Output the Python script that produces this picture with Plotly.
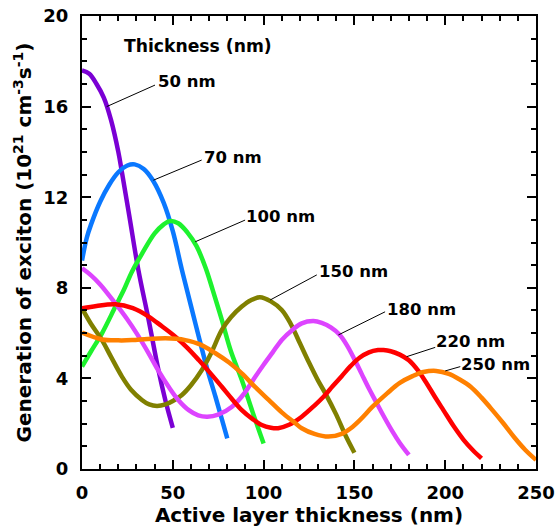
import plotly.graph_objects as go

# ---- data ----
x50 = [0, 4, 8, 12, 16, 20, 22, 26, 31, 36.7, 42, 46, 50]
y50 = [17.6, 17.45, 17.0, 16.4, 15.4, 14.0, 13.1, 11.2, 8.8, 6.58, 4.4, 3.0, 1.82]

x70 = [0, 2.6, 5, 10, 15, 20, 25, 29, 34, 39, 45, 50, 55, 60, 64.3, 69, 73.5, 77, 80]
y70 = [9.2, 10.2, 10.8, 11.8, 12.55, 13.1, 13.4, 13.45, 13.25, 12.75, 11.75, 10.5, 8.8, 7.2, 5.84, 4.4, 3.19, 2.2, 1.35]

x100 = [0, 5, 11, 18.4, 23, 27.5, 33, 40, 45, 48.5, 53, 58, 63, 68, 72, 77, 82, 88, 94, 100]
y100 = [4.52, 5.2, 5.99, 7.17, 7.9, 8.71, 9.5, 10.4, 10.8, 10.95, 10.85, 10.45, 9.85, 8.9, 7.9, 6.58, 5.2, 3.93, 2.5, 1.13]

x150 = [0, 5, 11, 16, 22, 27, 33, 37, 41.3, 46, 50, 55, 60, 66, 71, 77, 82, 88, 93, 98, 104, 110, 115, 120, 125, 130, 134, 140, 145, 150]
y150 = [7.09, 6.4, 5.69, 4.95, 4.08, 3.5, 3.05, 2.85, 2.78, 2.85, 3.0, 3.27, 3.7, 4.37, 5.1, 6.14, 6.7, 7.17, 7.45, 7.58, 7.4, 7.02, 6.4, 5.55, 4.7, 3.9, 3.34, 2.4, 1.5, 0.72]

x180 = [0, 5, 10, 18.4, 25, 30, 36.7, 42, 47.7, 53, 58.8, 64, 69, 75, 82.6, 89, 95.5, 100, 105, 110, 116, 121, 127.4, 132, 137, 142, 146, 150, 154, 158, 162, 166, 171, 175, 180]
y180 = [8.86, 8.55, 8.15, 7.31, 6.6, 6.0, 5.11, 4.35, 3.63, 3.05, 2.6, 2.37, 2.31, 2.4, 2.75, 3.3, 4.08, 4.6, 5.15, 5.7, 6.15, 6.43, 6.53, 6.45, 6.25, 5.92, 5.45, 4.85, 4.2, 3.55, 2.95, 2.35, 1.65, 1.15, 0.62]

x220 = [0, 8, 18.4, 28, 36.7, 44, 51.4, 58, 64.3, 71, 77, 83, 88, 94, 99, 104, 108, 114, 121, 128, 133, 138, 143, 148, 153, 158, 163, 166, 170, 175, 180, 185, 190, 195, 199, 205, 210, 215, 220]
y220 = [7.09, 7.2, 7.27, 7.1, 6.73, 6.3, 5.84, 5.35, 4.81, 4.2, 3.63, 3.05, 2.6, 2.2, 1.94, 1.82, 1.8, 1.95, 2.31, 2.8, 3.19, 3.65, 4.1, 4.55, 4.92, 5.15, 5.25, 5.25, 5.2, 5.05, 4.8, 4.35, 3.75, 3.1, 2.6, 1.85, 1.3, 0.85, 0.47]

x250 = [0, 11, 20, 27.5, 36, 45.9, 52, 56.9, 65, 73.5, 81, 88, 95, 102.8, 110, 117.5, 121, 128, 135.7, 143, 148, 153, 160, 168, 175, 182, 188, 195, 202, 208, 214, 220, 226, 232, 238, 244, 250]
y250 = [6.02, 5.72, 5.68, 5.69, 5.74, 5.77, 5.75, 5.69, 5.5, 5.11, 4.7, 4.22, 3.65, 3.05, 2.5, 2.02, 1.8, 1.55, 1.43, 1.55, 1.8, 2.16, 2.75, 3.34, 3.8, 4.1, 4.28, 4.33, 4.2, 3.95, 3.63, 3.15, 2.6, 2.02, 1.4, 0.85, 0.4]

series_names = ["50 nm", "70 nm", "100 nm", "150 nm", "180 nm", "220 nm", "250 nm"]
series_x = [x50, x70, x100, x150, x180, x220, x250]
series_y = [y50, y70, y100, y150, y180, y220, y250]
colors = ["#7B00D4", "#0A78FF", "#1EF22E", "#808000", "#DD44FF", "#FF0000", "#FF8000"]

# label text anchor (left, middle) and leader line: text end -> curve point
label_pos = [(41.3, 17.13), (66.7, 13.77), (89.8, 11.14), (130.0, 8.70), (167.5, 7.05), (194.5, 5.62), (208.3, 4.62)]
leader_start = [(40.2, 16.95), (65.9, 13.64), (89.8, 10.99), (129.3, 8.57), (166.9, 6.94), (194.5, 5.37), (208.3, 4.52)]
leader_end = [(13.6, 16.0), (39.3, 12.75), (62.3, 10.03), (103.6, 7.46), (141.2, 5.92), (178.8, 4.96), (200.0, 4.33)]

legend_title = "Thickness (nm)"
legend_title_pos = (22.6, 18.68)

FONT = "DejaVu Sans"

fig = go.Figure()
for name, xs, ys, c in zip(series_names, series_x, series_y, colors):
    fig.add_trace(go.Scatter(x=xs, y=ys, mode="lines", name=name,
                             line=dict(color=c, width=4.5, shape="spline", smoothing=1.0),
                             showlegend=False))

for (sx, sy), (ex, ey) in zip(leader_start, leader_end):
    fig.add_shape(type="line", x0=sx, y0=sy, x1=ex, y1=ey, xref="x", yref="y",
                  line=dict(color="black", width=1))

for name, (tx, ty) in zip(series_names, label_pos):
    fig.add_annotation(x=tx, y=ty, text=name, showarrow=False, xanchor="left", yanchor="middle",
                       xref="x", yref="y", borderpad=0,
                       font=dict(family=FONT, size=16.5, color="black", weight="bold"))

fig.add_annotation(x=legend_title_pos[0], y=legend_title_pos[1], text=legend_title, showarrow=False,
                   xanchor="left", yanchor="middle", xref="x", yref="y", borderpad=0,
                   font=dict(family=FONT, size=17.2, color="black", weight="bold"))

axis_common = dict(showline=True, linewidth=2, linecolor="black", mirror="ticks",
                   ticks="inside", ticklen=9, tickwidth=1.5, tickcolor="black",
                   showgrid=False, zeroline=False, automargin=False,
                   tickfont=dict(family=FONT, size=18, color="black", weight="bold"))

fig.update_xaxes(range=[0, 250], tickvals=[0, 50, 100, 150, 200, 250],
                 minor=dict(ticks="inside", dtick=10, ticklen=5, tickwidth=1.5, tickcolor="black"),
                 title=dict(text="Active layer thickness (nm)", standoff=4,
                            font=dict(family=FONT, size=20, color="black", weight="bold")),
                 ticklabelstandoff=6,
                 **axis_common)
fig.update_yaxes(range=[0, 20], tickvals=[0, 4, 8, 12, 16, 20],
                 minor=dict(ticks="inside", dtick=1, ticklen=5, tickwidth=1.5, tickcolor="black"),
                 title=dict(text="Generation of exciton (10<sup>21</sup> cm<sup>-3</sup>s<sup>-1</sup>)", standoff=6,
                            font=dict(family=FONT, size=20, color="black", weight="bold")),
                 ticklabelstandoff=8,
                 **axis_common)

fig.update_layout(width=556, height=532, margin=dict(l=82, r=20, t=16, b=63),
                  paper_bgcolor="white", plot_bgcolor="white")

fig.write_html("out.html")
